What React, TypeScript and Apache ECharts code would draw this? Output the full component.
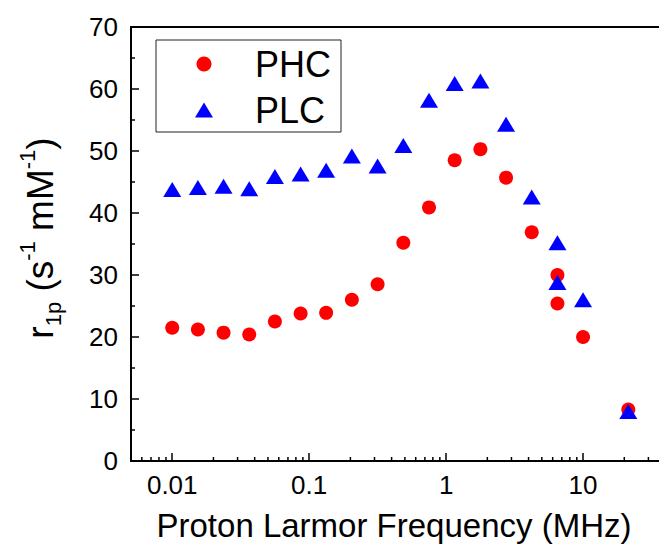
import React, { useEffect, useRef } from "react";
import * as echarts from "echarts";

// Proton Larmor frequency (MHz)
const FREQ_PHC = [0.01, 0.0154, 0.0237, 0.0365, 0.0562, 0.0866, 0.133, 0.205, 0.316, 0.487, 0.75, 1.155, 1.78, 2.74, 4.22, 6.5, 6.5, 10, 21.4];
const R1P_PHC = [21.5, 21.2, 20.7, 20.4, 22.5, 23.8, 23.9, 26.0, 28.5, 35.2, 40.9, 48.5, 50.3, 45.7, 36.9, 30.0, 25.4, 20.0, 8.3];
const FREQ_PLC = [0.01, 0.0154, 0.0237, 0.0365, 0.0562, 0.0866, 0.133, 0.205, 0.316, 0.487, 0.75, 1.155, 1.78, 2.74, 4.22, 6.5, 6.5, 10, 21.4];
const R1P_PLC = [43.8, 44.1, 44.3, 43.9, 45.9, 46.3, 46.9, 49.2, 47.6, 50.9, 58.2, 60.9, 61.3, 54.3, 42.6, 35.2, 28.8, 26.0, 8.0];

const SERIES_NAMES = ["PHC", "PLC"];
const X_MIN = 0.005;
const X_MAX = 100;
const Y_MIN = 0;
const Y_MAX = 70;
const Y_STEP = 10;
const X_MINOR_TICKS = [
  0.006, 0.007, 0.008, 0.009,
  0.02, 0.03, 0.04, 0.05, 0.06, 0.07, 0.08, 0.09,
  0.2, 0.3, 0.4, 0.5, 0.6, 0.7, 0.8, 0.9,
  2, 3, 4, 5, 6, 7, 8, 9,
  20, 30, 40, 50, 60, 70, 80, 90,
];
const X_TITLE = "Proton Larmor Frequency (MHz)";

const FONT = "'Liberation Sans', Arial, Helvetica, sans-serif";

function fmtLog(v: number): string {
  const l = Math.log10(v);
  const e = Math.round(l);
  if (Math.abs(l - e) > 1e-6) return "";
  return e < 0 ? Math.pow(10, e).toFixed(-e) : String(Math.round(Math.pow(10, e)));
}

export default function App() {
  const ref = useRef<HTMLDivElement>(null);

  useEffect(() => {
    if (!ref.current) return;
    const chart = echarts.init(ref.current, null, { renderer: "svg" });
    const option: any = {
      animation: false,
      backgroundColor: "#ffffff",
      textStyle: { fontFamily: FONT },
      grid: {
        left: 131,
        right: 20,
        top: 27,
        bottom: 86,
        show: true,
        borderColor: "#000",
        borderWidth: 2,
        backgroundColor: "transparent",
      },
      legend: {
        orient: "vertical",
        left: 156,
        top: 40,
        data: SERIES_NAMES,
        itemWidth: 18,
        itemHeight: 15,
        itemGap: 10,
        padding: [6, 10, 4, 39],
        borderColor: "#222",
        borderWidth: 1,
        textStyle: {
          fontSize: 36,
          lineHeight: 35,
          color: "#000",
          fontFamily: FONT,
          padding: [0, 0, 0, 37],
        },
      },
      xAxis: {
        type: "log",
        logBase: 10,
        min: X_MIN,
        max: X_MAX,
        axisLine: { show: true, lineStyle: { color: "#000", width: 2 } },
        axisTick: { show: true, inside: true, length: 8, lineStyle: { color: "#000", width: 1.5 } },
        axisLabel: {
          fontSize: 26,
          color: "#000",
          fontFamily: FONT,
          margin: 11,
          showMinLabel: false,
          showMaxLabel: false,
          formatter: (v: number) => fmtLog(v),
        },
        splitLine: { show: false },
        minorTick: { show: false },
      },
      yAxis: {
        type: "value",
        min: Y_MIN,
        max: Y_MAX,
        interval: Y_STEP,
        axisLine: { show: true, lineStyle: { color: "#000", width: 2 } },
        axisTick: { show: true, inside: true, length: 8, lineStyle: { color: "#000", width: 1.5 } },
        minorTick: { show: true, splitNumber: 2, length: 4, lineStyle: { color: "#000", width: 1.5 } },
        axisLabel: { fontSize: 26, color: "#000", fontFamily: FONT, margin: 13 },
        splitLine: { show: false },
      },
      graphic: [
        {
          type: "text",
          x: 394,
          y: 525,
          style: {
            text: X_TITLE,
            fontSize: 33,
            fontFamily: FONT,
            fill: "#000",
            align: "center",
            verticalAlign: "middle",
          },
        },
        {
          type: "text",
          x: 40,
          y: 238,
          rotation: Math.PI / 2,
          style: {
            text: "{m|r}{sub|1p}{m| (s}{sup|-1}{m| mM}{sup|-1}{m|)}",
            fill: "#000",
            fontFamily: FONT,
            align: "center",
            verticalAlign: "middle",
            rich: {
              m: { fontSize: 37, fontFamily: FONT, fill: "#000", lineHeight: 48, verticalAlign: "middle" },
              sub: { fontSize: 22, fontFamily: FONT, fill: "#000", lineHeight: 22, verticalAlign: "bottom" },
              sup: { fontSize: 22, fontFamily: FONT, fill: "#000", lineHeight: 22, verticalAlign: "top" },
            },
          },
        },
      ],
      series: [
        {
          name: "PHC",
          type: "scatter",
          symbol: "circle",
          symbolSize: 14,
          itemStyle: { color: "#ff0000", opacity: 1 },
          data: FREQ_PHC.map((f, i) => [f, R1P_PHC[i]]),
          z: 2,
        },
        {
          name: "PLC",
          type: "scatter",
          symbol: "triangle",
          symbolSize: [18, 15],
          itemStyle: { color: "#0000ff", opacity: 1 },
          data: FREQ_PLC.map((f, i) => [f, R1P_PLC[i]]),
          z: 3,
        },
        {
          name: "minorTicks",
          type: "custom",
          silent: true,
          clip: false,
          z: 5,
          data: X_MINOR_TICKS.map((v) => [v, Y_MIN]),
          renderItem: (_params: any, api: any) => {
            const p = api.coord([api.value(0), Y_MIN]);
            return {
              type: "line",
              shape: { x1: p[0], y1: p[1], x2: p[0], y2: p[1] - 4 },
              style: { stroke: "#000", lineWidth: 1.5 },
            };
          },
        },
      ],
    };
    chart.setOption(option);
    return () => chart.dispose();
  }, []);

  return (
    <div
      style={{
        position: "fixed",
        left: 0,
        top: 0,
        width: 659,
        height: 547,
        overflow: "hidden",
        background: "#fff",
      }}
    >
      <div ref={ref} style={{ width: 740, height: 547 }} />
    </div>
  );
}
